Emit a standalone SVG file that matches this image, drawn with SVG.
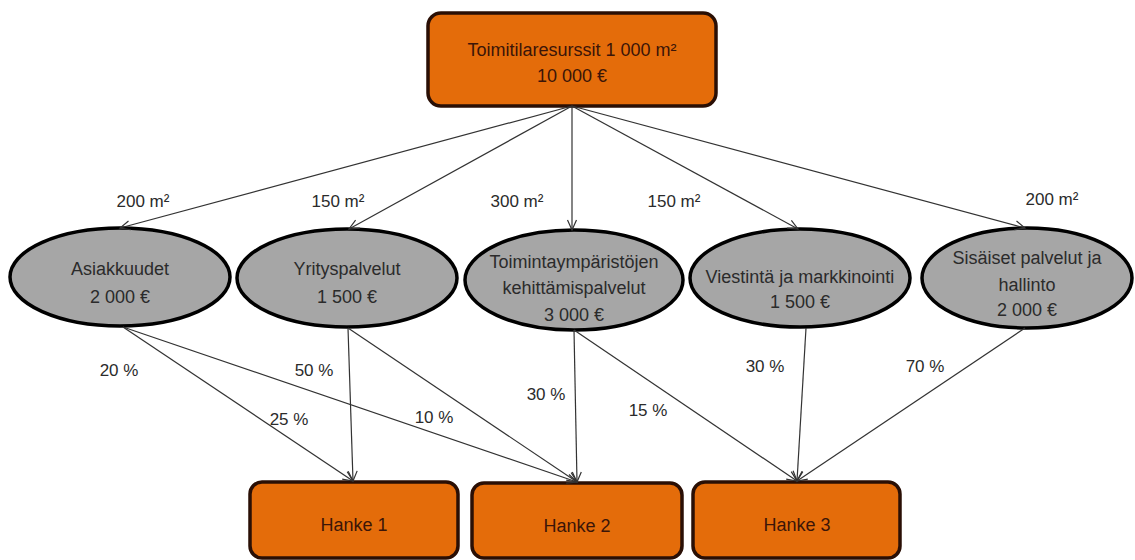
<svg xmlns="http://www.w3.org/2000/svg" width="1135" height="560" viewBox="0 0 1135 560">
  <defs>
    <marker id="arrow" viewBox="-12 -6 14 12" refX="0" refY="0" markerWidth="14" markerHeight="12" markerUnits="userSpaceOnUse" orient="auto">
      <path d="M-10,-4.5 L0,0 L-10,4.5" fill="none" stroke="#333" stroke-width="1.2"/>
    </marker>
    <style>
      .box { fill: #E46C0A; stroke: #2a0f05; stroke-width: 3.5; }
      .oval { fill: #A6A6A6; stroke: #000; stroke-width: 3.5; }
      .t { font-family: "Liberation Sans", Arial, sans-serif; font-size: 18px; text-anchor: middle; }
      .bt { fill: #3b1508; }
      .ot { fill: #2b2b2b; }
      .lbl { font-family: "Liberation Sans", Arial, sans-serif; font-size: 17px; fill: #2b2b2b; text-anchor: middle; }
      .edge { stroke: #333; stroke-width: 1.2; fill: none; marker-end: url(#arrow); }
    </style>
  </defs>
  <rect width="1135" height="560" fill="#fff"/>

  <!-- top resource node -->
  <g id="toimitilat">
    <rect class="box" x="428" y="13" width="288" height="93" rx="13"/>
    <text class="t bt" x="572" y="56">Toimitilaresurssit 1 000 m²</text>
    <text class="t bt" x="572" y="82">10 000 €</text>
  </g>

  <!-- service units -->
  <g id="asiakkuudet">
    <ellipse class="oval" cx="120" cy="277" rx="110" ry="49"/>
    <text class="t ot" x="120" y="275">Asiakkuudet</text>
    <text class="t ot" x="120" y="303">2 000 €</text>
  </g>
  <g id="yrityspalvelut">
    <ellipse class="oval" cx="347" cy="278" rx="110" ry="49"/>
    <text class="t ot" x="347" y="275">Yrityspalvelut</text>
    <text class="t ot" x="347" y="303">1 500 €</text>
  </g>
  <g id="toimintaymparistot">
    <ellipse class="oval" cx="574" cy="280" rx="109" ry="50"/>
    <text class="t ot" x="574" y="268">Toimintaympäristöjen</text>
    <text class="t ot" x="574" y="294">kehittämispalvelut</text>
    <text class="t ot" x="574" y="321">3 000 €</text>
  </g>
  <g id="viestinta">
    <ellipse class="oval" cx="800" cy="278" rx="110" ry="49"/>
    <text class="t ot" x="800" y="283">Viestintä ja markkinointi</text>
    <text class="t ot" x="800" y="308">1 500 €</text>
  </g>
  <g id="sisaiset">
    <ellipse class="oval" cx="1027" cy="278" rx="105" ry="50"/>
    <text class="t ot" x="1027" y="264">Sisäiset palvelut ja</text>
    <text class="t ot" x="1027" y="291">hallinto</text>
    <text class="t ot" x="1027" y="316">2 000 €</text>
  </g>

  <!-- projects -->
  <g id="hanke1">
    <rect class="box" x="250" y="482" width="208" height="76" rx="12"/>
    <text class="t bt" x="354" y="531">Hanke 1</text>
  </g>
  <g id="hanke2">
    <rect class="box" x="472" y="483" width="210" height="75" rx="12"/>
    <text class="t bt" x="577" y="532">Hanke 2</text>
  </g>
  <g id="hanke3">
    <rect class="box" x="693" y="482" width="207" height="76" rx="12"/>
    <text class="t bt" x="797" y="531">Hanke 3</text>
  </g>

  <!-- allocation arrows -->
  <g id="connectors">
    <line class="edge" x1="572" y1="106" x2="120" y2="228"/>
    <line class="edge" x1="572" y1="106" x2="349" y2="229"/>
    <line class="edge" x1="572" y1="106" x2="572" y2="230"/>
    <line class="edge" x1="572" y1="106" x2="798" y2="229"/>
    <line class="edge" x1="572" y1="106" x2="1025" y2="228"/>

    <line class="edge" x1="123" y1="327" x2="353" y2="481"/>
    <line class="edge" x1="123" y1="327" x2="577" y2="482"/>
    <line class="edge" x1="348" y1="328" x2="353" y2="481"/>
    <line class="edge" x1="348" y1="328" x2="577" y2="482"/>
    <line class="edge" x1="574" y1="330" x2="577" y2="482"/>
    <line class="edge" x1="574" y1="330" x2="797" y2="481"/>
    <line class="edge" x1="806" y1="328" x2="797" y2="481"/>
    <line class="edge" x1="1025" y1="328" x2="797" y2="481"/>
  </g>

  <!-- edge labels -->
  <g id="labels">
    <text class="lbl" x="143" y="207">200 m²</text>
    <text class="lbl" x="338" y="207">150 m²</text>
    <text class="lbl" x="517" y="207">300 m²</text>
    <text class="lbl" x="674" y="207">150 m²</text>
    <text class="lbl" x="1052" y="205">200 m²</text>

    <text class="lbl" x="119" y="376">20 %</text>
    <text class="lbl" x="314" y="376">50 %</text>
    <text class="lbl" x="289" y="425">25 %</text>
    <text class="lbl" x="434" y="423">10 %</text>
    <text class="lbl" x="546" y="400">30 %</text>
    <text class="lbl" x="648" y="416">15 %</text>
    <text class="lbl" x="765" y="372">30 %</text>
    <text class="lbl" x="925" y="372">70 %</text>
  </g>
</svg>
